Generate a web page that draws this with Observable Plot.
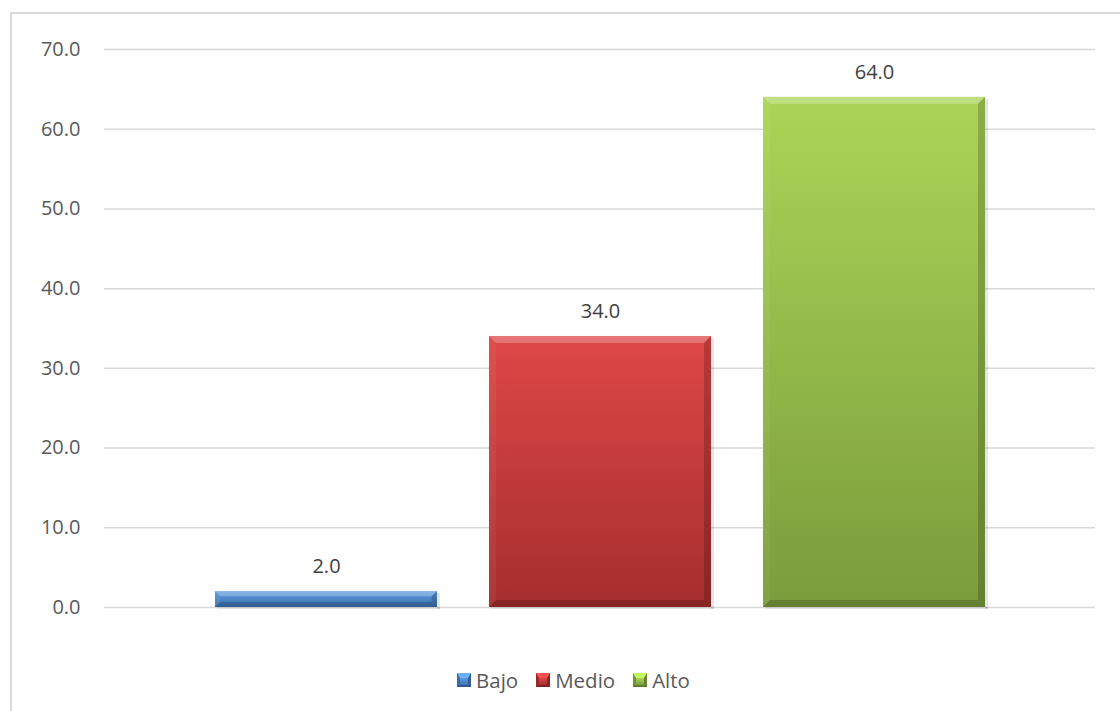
<!DOCTYPE html>
<html><head><meta charset="utf-8">
<script src="https://cdn.jsdelivr.net/npm/d3@7"></script>
<script src="https://cdn.jsdelivr.net/npm/@observablehq/plot@0.6"></script>
<style>
html,body{margin:0;padding:0;background:#fff;overflow:hidden;width:1120px;height:711px;}
#frame{position:absolute;left:10px;top:12px;width:1200px;height:800px;border:2px solid #d9d9d9;box-sizing:border-box;}
#chart{position:absolute;left:0;top:0;}
#legend{position:absolute;top:666px;left:457px;display:flex;align-items:center;font-family:"Open Sans",sans-serif;font-size:20.5px;color:#595959;white-space:nowrap;}
.item{display:flex;align-items:center;margin-right:18px;}
.sw{width:14px;height:14px;box-sizing:border-box;border-style:solid;border-width:5px 3px 2px 3px;margin-right:5px;}
</style>
</head><body>
<div id="frame"></div>
<div id="chart"></div>
<div id="legend"></div>
<script>
const categories = ["Bajo", "Medio", "Alto"];
const values = [2.0, 34.0, 64.0];
const yTicks = [0, 10, 20, 30, 40, 50, 60, 70];
// top and bottom gradient colours for each category
const topColors = ["#5c9ae0", "#de4747", "#aad557"];
const bottomColors = ["#3d73b2", "#a62e2e", "#7b9c3c"];

const data = categories.map((c, i) => ({cat: c, value: values[i]}));

const defsMark = () => {
  const defs = d3.create("svg:defs");
  categories.forEach((c, i) => {
    const g = defs.append("linearGradient").attr("id", "grad" + i)
      .attr("x1", 0).attr("y1", 0).attr("x2", 0).attr("y2", 1);
    g.append("stop").attr("offset", "0%").attr("stop-color", topColors[i]);
    g.append("stop").attr("offset", "100%").attr("stop-color", bottomColors[i]);
  });
  return defs.node();
};

const bevelMark = (index, scales) => {
  const g = d3.create("svg:g");
  const xs = scales.x, ys = scales.y;
  const w = xs.bandwidth();
  data.forEach(d => {
    const x0 = xs(d.cat), x1 = x0 + w;
    const yT = ys(d.value), yB = ys(0);
    const b = Math.min(7, (yB - yT) / 3);
    const poly = (pts, fill, op) => g.append("polygon")
      .attr("points", pts.map(p => p.join(",")).join(" "))
      .attr("fill", fill).attr("fill-opacity", op);
    // soft shadow
    g.append("rect").attr("x", x1).attr("y", yT + 2).attr("width", 3).attr("height", yB - yT)
      .attr("fill", "#000").attr("fill-opacity", 0.10);
    g.append("rect").attr("x", x0 + 2).attr("y", yB).attr("width", w + 1).attr("height", 2)
      .attr("fill", "#000").attr("fill-opacity", 0.08);
    poly([[x0, yT], [x1, yT], [x1 - b, yT + b], [x0 + b, yT + b]], "#fff", 0.25);
    poly([[x0, yT], [x0 + b, yT + b], [x0 + b, yB - b], [x0, yB]], "#fff", 0.05);
    poly([[x1, yT], [x1, yB], [x1 - b, yB - b], [x1 - b, yT + b]], "#000", 0.18);
    poly([[x0, yB], [x1, yB], [x1 - b, yB - b], [x0 + b, yB - b]], "#000", 0.18);
  });
  return g.node();
};

const chart = Plot.plot({
  width: 1120,
  height: 650,
  marginLeft: 104,
  marginRight: 25,
  marginTop: 49,
  marginBottom: 43,
  x: {domain: categories, paddingInner: 0.19, paddingOuter: 0.40, axis: null},
  y: {domain: [0, 70], ticks: yTicks, tickFormat: d => d.toFixed(1), tickSize: 0, tickPadding: 24, label: null},
  style: {fontFamily: "Open Sans, sans-serif", fontSize: "20px", color: "#595959", background: "transparent", overflow: "visible"},
  marks: [
    defsMark,
    Plot.ruleY(yTicks, {stroke: "#d9d9d9", strokeWidth: 1.5}),
    ...categories.map((c, i) => Plot.barY(data.filter(d => d.cat === c), {x: "cat", y: "value", fill: `url(#grad${i})`})),
    bevelMark,
    Plot.text(data, {x: "cat", y: "value", text: d => d.value.toFixed(1), dy: -25, fill: "#404040", fontSize: 20, lineAnchor: "middle"})
  ]
});
document.getElementById("chart").appendChild(chart);

const legend = document.getElementById("legend");
categories.forEach((c, i) => {
  const it = document.createElement("div");
  it.className = "item";
  const sw = document.createElement("span");
  sw.className = "sw";
  sw.style.background = `linear-gradient(${topColors[i]}, ${bottomColors[i]})`;
  sw.style.borderColor = `${d3.color(topColors[i]).brighter(0.4)} ${d3.color(bottomColors[i]).darker(0.5)} ${d3.color(bottomColors[i]).darker(0.7)} ${d3.color(bottomColors[i]).darker(0.2)}`;
  const t = document.createElement("span");
  t.textContent = c;
  it.appendChild(sw); it.appendChild(t);
  legend.appendChild(it);
});
</script>
</body></html>
